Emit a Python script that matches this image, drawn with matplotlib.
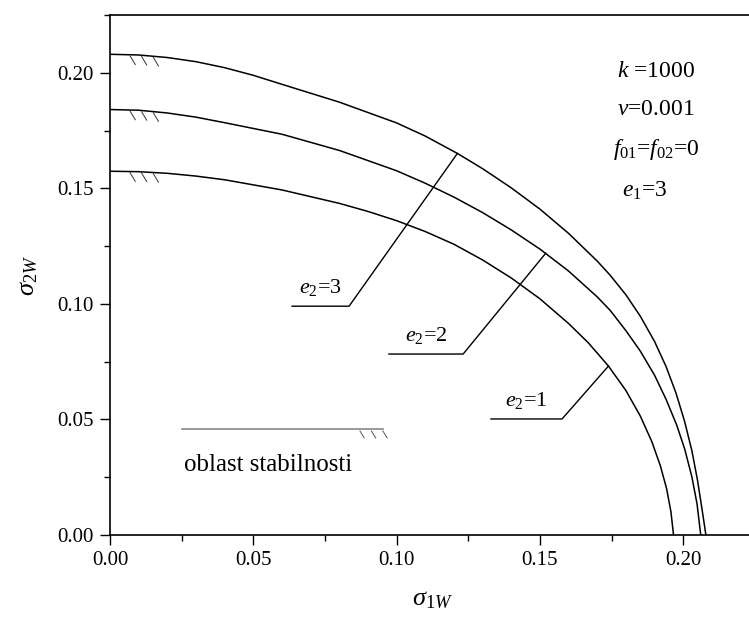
import numpy as np
import matplotlib
matplotlib.use('Agg')
import matplotlib.pyplot as plt

plt.rcParams['font.family'] = 'Liberation Serif'
plt.rcParams['mathtext.fontset'] = 'custom'
plt.rcParams['mathtext.rm'] = 'Liberation Serif'
plt.rcParams['mathtext.it'] = 'Liberation Serif:italic'

# granicne krive stabilnosti (k=1000, nu=0.001, e1=3) za e2 = 1, 2, 3
s1_e2_1 = [0.0, 0.01, 0.02, 0.03, 0.04, 0.06, 0.08, 0.09, 0.10, 0.11, 0.12, 0.13, 0.14, 0.15,
           0.16, 0.167, 0.1739, 0.180, 0.185, 0.189, 0.192, 0.1942, 0.1957, 0.1966]
s2_e2_1 = [0.1574, 0.1572, 0.1565, 0.1553, 0.1537, 0.1493, 0.1435, 0.1400, 0.1360, 0.1313,
           0.1258, 0.1190, 0.1112, 0.1022, 0.0915, 0.0830, 0.0731, 0.0625, 0.0515, 0.0405,
           0.0300, 0.0200, 0.0100, 0.0]

s1_e2_2 = [0.0, 0.01, 0.02, 0.03, 0.04, 0.06, 0.08, 0.10, 0.11, 0.12, 0.13, 0.14, 0.15, 0.16,
           0.17, 0.1745, 0.18, 0.185, 0.19, 0.194, 0.1977, 0.2005, 0.203, 0.2048, 0.2061]
s2_e2_2 = [0.1841, 0.1838, 0.1826, 0.1808, 0.1784, 0.1734, 0.1664, 0.1576, 0.1522, 0.1462,
           0.1395, 0.1320, 0.1237, 0.1142, 0.1030, 0.0972, 0.0884, 0.0796, 0.0691, 0.0587,
           0.0476, 0.0372, 0.0252, 0.0135, 0.0]

s1_e2_3 = [0.0, 0.01, 0.02, 0.03, 0.04, 0.05, 0.06, 0.08, 0.10, 0.11, 0.1212, 0.13, 0.14, 0.15,
           0.16, 0.17, 0.1745, 0.18, 0.185, 0.19, 0.194, 0.1975, 0.2005, 0.203, 0.205, 0.2067,
           0.2079]
s2_e2_3 = [0.2080, 0.2077, 0.2066, 0.2048, 0.2022, 0.1989, 0.1950, 0.1873, 0.1783, 0.1726,
           0.1651, 0.1585, 0.1502, 0.1410, 0.1305, 0.1185, 0.1124, 0.1039, 0.0947, 0.0837,
           0.0729, 0.0613, 0.0490, 0.0365, 0.0235, 0.0099, 0.0]

# oznake krivih: x pocetka i kraja police, x na krivoj / y police, y na krivoj
lab_e1_x = [0.1329, 0.1577, 0.1739]
lab_e1_y = [0.0502, 0.0502, 0.0731]
lab_e2_x = [0.0973, 0.1232, 0.1520]
lab_e2_y = [0.0783, 0.0783, 0.1219]
lab_e3_x = [0.0635, 0.0834, 0.1212]
lab_e3_y = [0.0990, 0.0990, 0.1651]

# parametri proracuna
params = [r'$k$ =1000', r'$\nu$=0.001', r'$f_{01}$=$f_{02}$=0', r'$e_{1}$=3']
params_x = [0.1769, 0.1769, 0.1755, 0.1786]
params_y = [0.1982, 0.1817, 0.1644, 0.1463]

hatch_x = [0.007, 0.011, 0.0151]

fig = plt.figure(figsize=(7.49, 6.25), dpi=100)
ax = fig.add_axes([0.1469, 0.144, 0.861, 0.832])

curves = [(s1_e2_1, s2_e2_1), (s1_e2_2, s2_e2_2), (s1_e2_3, s2_e2_3)]
for xs, ys in curves:
    ax.plot(xs, ys, color='black', lw=1.1, solid_joinstyle='round')
    # crtice sa strane stabilne oblasti
    for hx in hatch_x:
        hy = np.interp(hx, xs, ys)
        ax.plot([hx, hx + 0.0018], [hy - 0.0005, hy - 0.0042], color='#333333', lw=0.7)

labels = [(lab_e1_x, lab_e1_y, '1'), (lab_e2_x, lab_e2_y, '2'), (lab_e3_x, lab_e3_y, '3')]
for lx, ly, n in labels:
    ax.plot(lx, ly, color='black', lw=1.0)
    ax.text((lx[0] + lx[1]) / 2, ly[0] + 0.0055, r'$e_{2}$=' + n,
            ha='center', va='baseline', fontsize=16)

# legenda oblasti stabilnosti
ax.plot([0.025, 0.0953], [0.0457, 0.0457], color='#888888', lw=1.2)
for hx in [0.0872, 0.0912, 0.0952]:
    ax.plot([hx, hx + 0.0015], [0.0450, 0.0420], color='#555555', lw=0.7)
ax.text(0.0258, 0.0278, 'oblast stabilnosti', fontsize=18, va='baseline', ha='left')

for txt, px, py in zip(params, params_x, params_y):
    ax.text(px, py, txt, fontsize=17, va='baseline', ha='left')

ax.set_xlim(0, 0.225)
ax.set_ylim(0, 0.225)
ax.set_xticks(np.arange(0, 0.201, 0.05))
ax.set_yticks(np.arange(0, 0.201, 0.05))
ax.set_xticks(np.arange(0.025, 0.226, 0.05), minor=True)
ax.set_yticks(np.arange(0.025, 0.226, 0.05), minor=True)
ax.xaxis.set_major_formatter(plt.FormatStrFormatter('%.2f'))
ax.yaxis.set_major_formatter(plt.FormatStrFormatter('%.2f'))
ax.tick_params(which='major', direction='out', length=7.5, width=1.0, labelsize=15, pad=4)
ax.tick_params(which='minor', direction='out', length=4.5, width=1.0)
for sp in ax.spines.values():
    sp.set_linewidth(1.2)

ax.set_xlabel(r'$\sigma_{1W}$', fontsize=19, labelpad=14)
ax.set_ylabel(r'$\sigma_{2W}$', fontsize=19, labelpad=13)

fig.savefig('out.png', dpi=100)
